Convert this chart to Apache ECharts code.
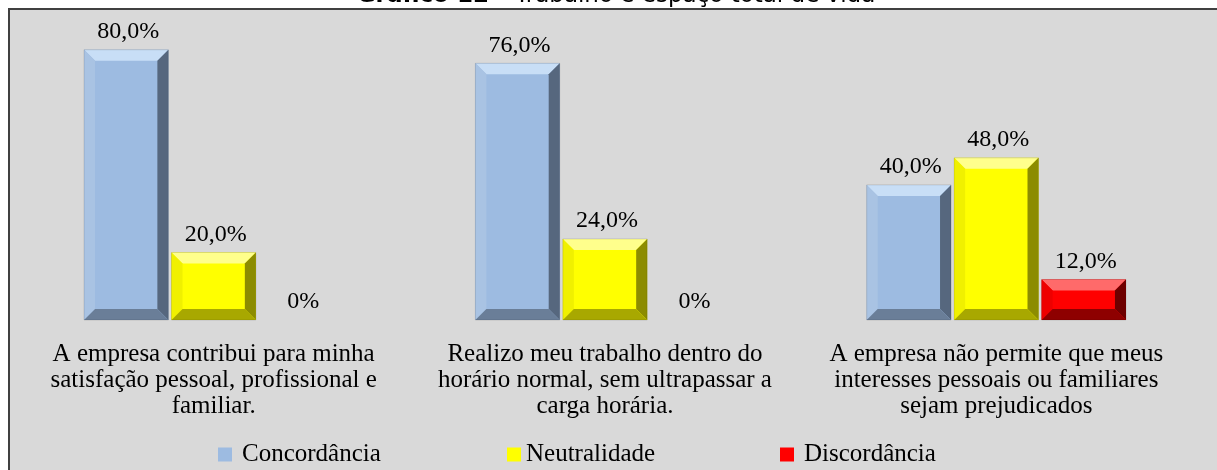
<!DOCTYPE html>
<html>
<head>
<meta charset="utf-8">
<script src="https://cdn.jsdelivr.net/npm/echarts@6/dist/echarts.min.js"></script>
<style>html,body{margin:0;padding:0;background:#fff;}#c{width:1217px;height:470px;}</style>
</head>
<body>
<div id="c"></div>
<script>
const categories = [
  'A empresa contribui para minha\nsatisfação pessoal, profissional e\nfamiliar.',
  'Realizo meu trabalho dentro do\nhorário normal, sem ultrapassar a\ncarga horária.',
  'A empresa não permite que meus\ninteresses pessoais ou familiares\nsejam prejudicados'
];
const seriesNames = ['Concordância', 'Neutralidade', 'Discordância'];
const concordancia = [80, 76, 40];
const neutralidade = [20, 24, 48];
const discordancia = [0, 0, 12];
const titleBold = 'Gráfico 12';
const titleRest = ' – Trabalho e espaço total de vida';

const palettes = [
  {main: '#9dbbe1', top: '#c8def6', left: '#a9c3e3', right: '#56677e', bottom: '#6a7e98'},
  {main: '#ffff00', top: '#ffff8c', left: '#f0f000', right: '#8c8c00', bottom: '#a8a800'},
  {main: '#ff0000', top: '#ff6a6a', left: '#ee0000', right: '#6e0000', bottom: '#8e0000'}
];
const allValues = [concordancia, neutralidade, discordancia];

function fmt(v) { return v === 0 ? '0%' : v.toFixed(1).replace('.', ',') + '%'; }

function makeRender(s) {
  return function (params, api) {
    const cat = api.value(0), val = api.value(1);
    const base = api.coord([cat, 0]);
    const topPt = api.coord([cat, val]);
    const band = api.size([1, 0])[0];
    const barW = band * 0.2155;
    const gap = band * 0.008;
    const x0 = base[0] - 1.5 * barW - gap + s * (barW + gap);
    const x1 = x0 + barW;
    const y1 = base[1];
    const y0 = topPt[1];
    const h = y1 - y0;
    const p = palettes[s];
    const children = [];
    if (h > 0) {
      const b = Math.min(11, h / 3);
      children.push({type: 'rect', shape: {x: x0, y: y0, width: barW, height: h}, style: {fill: p.main}});
      children.push({type: 'polygon', shape: {points: [[x0, y0], [x1, y0], [x1 - b, y0 + b], [x0 + b, y0 + b]]}, style: {fill: p.top}});
      children.push({type: 'polygon', shape: {points: [[x0, y0], [x0 + b, y0 + b], [x0 + b, y1 - b], [x0, y1]]}, style: {fill: p.left}});
      children.push({type: 'polygon', shape: {points: [[x1, y0], [x1, y1], [x1 - b, y1 - b], [x1 - b, y0 + b]]}, style: {fill: p.right}});
      children.push({type: 'polygon', shape: {points: [[x0, y1], [x0 + b, y1 - b], [x1 - b, y1 - b], [x1, y1]]}, style: {fill: p.bottom}});
      children.push({type: 'rect', shape: {x: x0, y: y0, width: barW, height: h}, style: {fill: 'none', stroke: 'rgba(0,0,0,0.12)', lineWidth: 1}});
    }
    children.push({
      type: 'text', x: (x0 + x1) / 2 + 2, y: y0 - 6,
      style: {text: fmt(val), align: 'center', verticalAlign: 'bottom', fontSize: 24, fontFamily: 'Liberation Serif', fill: '#000'}
    });
    return {type: 'group', children: children};
  };
}

const series = seriesNames.map(function (name, s) {
  return {
    name: name,
    type: 'custom',
    renderItem: makeRender(s),
    itemStyle: {color: palettes[s].main},
    encode: {x: 0, y: 1},
    data: allValues[s].map(function (v, i) { return [i, v]; }),
    clip: false
  };
});

const legendLefts = [218, 507, 780];
const legends = seriesNames.map(function (name, s) {
  return {
    data: [name], left: legendLefts[s], top: 442, padding: 0,
    icon: 'rect', itemWidth: 14, itemHeight: 14,
    textStyle: {fontFamily: 'Liberation Serif', fontSize: 25, color: '#000', padding: [0, 0, 0, s === 1 ? 0 : 5]},
    selectedMode: false
  };
});

const chart = echarts.init(document.getElementById('c'), null, {renderer: 'canvas'});
chart.setOption({
  animation: false,
  backgroundColor: '#ffffff',
  graphic: [
    {type: 'rect', z: -10, shape: {x: 9, y: 9, width: 1230, height: 480}, style: {fill: '#d9d9d9', stroke: '#404040', lineWidth: 2}},
    {type: 'text', z: -5, x: 616, y: 8,
     style: {
       text: '{b|' + titleBold + '}{n|' + titleRest + '}',
       align: 'center', verticalAlign: 'bottom',
       rich: {
         b: {fontFamily: 'DejaVu Sans', fontWeight: 'bold', fontSize: 23, fill: '#000'},
         n: {fontFamily: 'DejaVu Sans', fontSize: 23, fill: '#000'}
       }
     }}
  ],
  legend: legends,
  grid: {left: 18, right: 25, top: 16, bottom: 150},
  xAxis: {
    type: 'category', data: categories,
    axisLine: {show: false}, axisTick: {show: false},
    axisLabel: {interval: 0, margin: 21, fontFamily: 'Liberation Serif', fontSize: 25, lineHeight: 26, color: '#000', align: 'center'}
  },
  yAxis: {type: 'value', min: 0, max: 90, show: false, splitLine: {show: false}},
  series: series
});
</script>
</body>
</html>
